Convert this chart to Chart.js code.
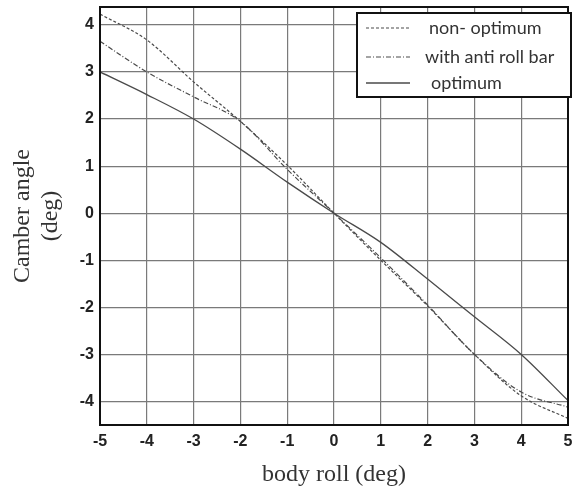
<!DOCTYPE html>
<html>
<head>
<meta charset="utf-8">
<script src="https://cdn.jsdelivr.net/npm/chart.js@4"></script>
<style>
  html, body { margin: 0; padding: 0; background: #fff; }
  #wrap { width: 573px; height: 490px; }
</style>
</head>
<body>
<div id="wrap"><canvas id="camberChart" width="573" height="490"></canvas></div>
<script>
// body roll (deg)
const bodyRoll = [-5, -4, -3, -2, -1, 0, 1, 2, 3, 4, 5];
// camber angle (deg) per curve
const nonOptimum = [4.23, 3.68, 2.79, 1.95, 1.02, 0, -1.0, -1.97, -3.0, -3.88, -4.36];
const antiRollBar = [3.65, 3.0, 2.47, 1.95, 0.93, 0, -0.95, -1.95, -3.0, -3.8, -4.12];
const optimum = [3.0, 2.52, 2.0, 1.36, 0.66, 0, -0.62, -1.4, -2.2, -3.0, -3.98];
const xTicks = [-5, -4, -3, -2, -1, 0, 1, 2, 3, 4, 5];
const yTicks = [-4, -3, -2, -1, 0, 1, 2, 3, 4];

const lineColor = '#4a4a4a';

function toPoints(values) {
  return bodyRoll.map((x, i) => ({ x: x, y: values[i] }));
}

// рамка вокруг области графика
const framePlugin = {
  id: 'frame',
  afterDraw(chart) {
    const { ctx, chartArea: a } = chart;
    ctx.save();
    ctx.strokeStyle = '#111';
    ctx.lineWidth = 2;
    ctx.strokeRect(a.left, a.top, a.right - a.left, a.bottom - a.top);
    ctx.restore();
  }
};

// легенда в рамке, справа сверху
const boxLegendPlugin = {
  id: 'boxLegend',
  afterDraw(chart) {
    const ctx = chart.ctx;
    const box = { x: 357, y: 13, w: 214, h: 84 };
    const rows = [28, 57, 83];
    const textX = [429, 425, 431];
    ctx.save();
    ctx.fillStyle = '#fff';
    ctx.fillRect(box.x, box.y, box.w, box.h);
    ctx.strokeStyle = '#111';
    ctx.lineWidth = 2;
    ctx.strokeRect(box.x, box.y, box.w, box.h);
    ctx.font = '18px Lato, "Open Sans", sans-serif';
    ctx.textBaseline = 'middle';
    chart.data.datasets.forEach((ds, i) => {
      ctx.beginPath();
      ctx.setLineDash(ds.borderDash || []);
      ctx.strokeStyle = ds.borderColor;
      ctx.lineWidth = ds.borderWidth;
      ctx.moveTo(366, rows[i]);
      ctx.lineTo(410, rows[i]);
      ctx.stroke();
      ctx.setLineDash([]);
      ctx.fillStyle = '#333';
      ctx.fillText(ds.label, textX[i], rows[i]);
    });
    ctx.restore();
  }
};

const ctx = document.getElementById('camberChart');

new Chart(ctx, {
  type: 'line',
  data: {
    datasets: [
      {
        label: 'non- optimum',
        data: toPoints(nonOptimum),
        borderColor: lineColor,
        borderWidth: 1.2,
        borderDash: [3, 2],
        pointRadius: 0,
        cubicInterpolationMode: 'monotone',
        fill: false
      },
      {
        label: 'with anti roll bar',
        data: toPoints(antiRollBar),
        borderColor: lineColor,
        borderWidth: 1.2,
        borderDash: [5, 2, 1, 2],
        pointRadius: 0,
        cubicInterpolationMode: 'monotone',
        fill: false
      },
      {
        label: 'optimum',
        data: toPoints(optimum),
        borderColor: lineColor,
        borderWidth: 1.3,
        pointRadius: 0,
        cubicInterpolationMode: 'monotone',
        fill: false
      }
    ]
  },
  options: {
    responsive: false,
    animation: false,
    layout: { padding: { top: 7, right: 0, left: 0, bottom: 0 } },
    plugins: {
      legend: { display: false },
      tooltip: { enabled: false }
    },
    scales: {
      x: {
        type: 'linear',
        min: -5,
        max: 5,
        afterBuildTicks(scale) { scale.ticks = xTicks.map(v => ({ value: v })); },
        afterFit(scale) {
          scale.height = 65;
          scale.paddingLeft = 0;
          scale.paddingRight = 5;
        },
        grid: { color: '#7a7a7a', lineWidth: 1.2, drawTicks: false },
        border: { display: false },
        ticks: {
          padding: 7,
          color: '#222',
          maxRotation: 0,
          font: { family: '"Liberation Sans", Arial, sans-serif', size: 16, weight: 'bold' }
        },
        title: {
          display: true,
          text: 'body roll (deg)',
          color: '#333',
          padding: { top: 0, bottom: 1 },
          font: { family: '"Liberation Serif", "Times New Roman", serif', size: 24, lineHeight: 1.2 }
        }
      },
      y: {
        type: 'linear',
        min: -4.5,
        max: 4.38,
        afterBuildTicks(scale) { scale.ticks = yTicks.map(v => ({ value: v })); },
        afterFit(scale) {
          scale.width = 100;
          scale.paddingTop = 0;
          scale.paddingBottom = 0;
        },
        grid: { color: '#7a7a7a', lineWidth: 1.2, drawTicks: false },
        border: { display: false },
        ticks: {
          padding: 6,
          color: '#222',
          font: { family: '"Liberation Sans", Arial, sans-serif', size: 16, weight: 'bold' }
        },
        title: {
          display: true,
          text: ['Camber angle', '(deg)'],
          color: '#333',
          padding: { top: 8, bottom: 0 },
          font: { family: '"Liberation Serif", "Times New Roman", serif', size: 24, lineHeight: 1.2 }
        }
      }
    }
  },
  plugins: [framePlugin, boxLegendPlugin]
});
</script>
</body>
</html>
